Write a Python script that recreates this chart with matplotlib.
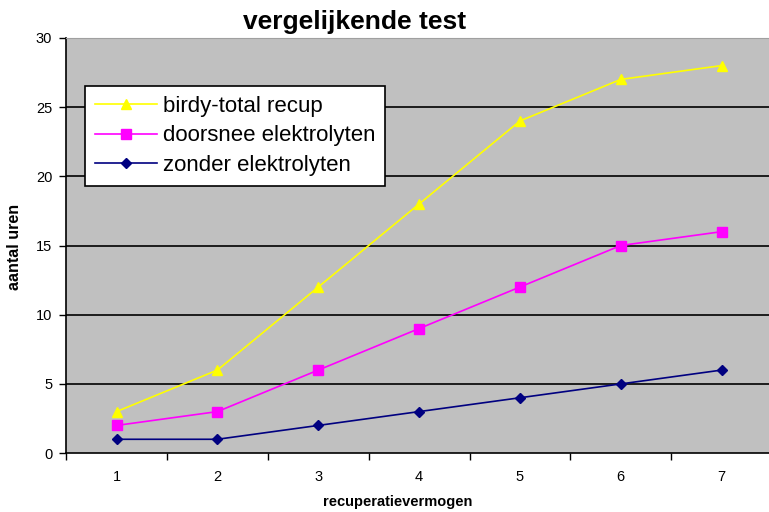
import numpy as np
import matplotlib
matplotlib.use("Agg")
from matplotlib import pyplot as plt

plt.rcParams['font.family'] = ['Liberation Sans', 'DejaVu Sans']

x = [1, 2, 3, 4, 5, 6, 7]
birdy = [3, 6, 12, 18, 24, 27, 28]
doorsnee = [2, 3, 6, 9, 12, 15, 16]
zonder = [1, 1, 2, 3, 4, 5, 6]

fig = plt.figure(figsize=(7.69, 5.12), dpi=100)
ax = fig.add_axes([0.086, 0.115, 0.918, 0.811])
ax.set_facecolor('#C0C0C0')

ax.plot(x, birdy, color='#FFFF00', marker='^', markersize=7, lw=1.2, label='birdy-total recup')
ax.plot(x, doorsnee, color='#FF00FF', marker='s', markersize=6.5, lw=1.2, label='doorsnee elektrolyten')
ax.plot(x, zonder, color='#000080', marker='D', markersize=5.5, lw=1.2, label='zonder elektrolyten')

ax.set_xlim(0.5, 7.5)
ax.set_ylim(0, 30)
ax.set_yticks(range(0, 31, 5))
ax.set_xticks(x)
ax.set_xticks(np.arange(0.5, 7.6, 1), minor=True)
ax.tick_params(axis='x', which='major', length=0, labelsize=10.5, pad=12)
ax.tick_params(axis='x', which='minor', length=5, width=1)
ax.tick_params(axis='y', length=5, width=1, labelsize=10.5, pad=5)
for y in range(5, 30, 5):
    ax.axhline(y, color='black', lw=1.2, zorder=1)

for s in ['top', 'right']:
    ax.spines[s].set_color('#A0A0A0')
for s in ['left', 'bottom']:
    ax.spines[s].set_color('black')
    ax.spines[s].set_linewidth(1.2)

fig.text(355 / 769, 1 - 22 / 512, 'vergelijkende test', fontsize=19, fontweight='bold',
         ha='center', va='center')
ax.set_xlabel('recuperatievermogen', fontsize=10.5, fontweight='heavy')
ax.xaxis.set_label_coords(0.469, -0.1)
ax.set_ylabel('aantal uren', fontsize=11.5, fontweight='heavy')
ax.yaxis.set_label_coords(-0.063, 0.496)

leg = ax.legend(loc='upper left', bbox_to_anchor=(0.027, 0.884), fontsize=16,
                frameon=True, fancybox=False, framealpha=1, edgecolor='black',
                handlelength=2.8, borderpad=0.45, labelspacing=0.38, handletextpad=0.25,
                borderaxespad=0)
leg.get_frame().set_linewidth(1.2)

fig.savefig('out.png', dpi=100)
